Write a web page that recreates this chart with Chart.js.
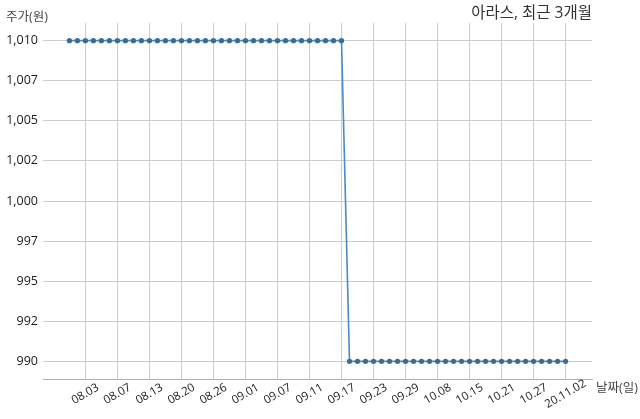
<!DOCTYPE html>
<html>
<head>
<meta charset="utf-8">
<script src="https://cdn.jsdelivr.net/npm/chart.js@4/dist/chart.umd.min.js"></script>
<style>
  html, body { margin: 0; padding: 0; background: #fff; }
</style>
</head>
<body>
<canvas id="myChart" width="640" height="419"></canvas>
<script>
// trading days, 2020.07.30 ~ 2020.11.02
const dates = [
  '07.30', '07.31',
  '08.03', '08.04', '08.05', '08.06', '08.07', '08.10', '08.11', '08.12', '08.13', '08.14',
  '08.18', '08.19', '08.20', '08.21', '08.24', '08.25', '08.26', '08.27', '08.28', '08.31',
  '09.01', '09.02', '09.03', '09.04', '09.07', '09.08', '09.09', '09.10', '09.11',
  '09.14', '09.15', '09.16', '09.17', '09.18', '09.21', '09.22', '09.23', '09.24', '09.25',
  '09.28', '09.29',
  '10.05', '10.06', '10.07', '10.08', '10.12', '10.13', '10.14', '10.15', '10.16',
  '10.19', '10.20', '10.21', '10.22', '10.23', '10.26', '10.27', '10.28', '10.29', '10.30',
  '11.02'
]
const prices = [
  1010, 1010, 1010, 1010, 1010, 1010, 1010, 1010, 1010, 1010, 1010, 1010,
  1010, 1010, 1010, 1010, 1010, 1010, 1010, 1010, 1010, 1010, 1010, 1010,
  1010, 1010, 1010, 1010, 1010, 1010, 1010, 1010, 1010, 1010, 1010,
  990, 990, 990, 990, 990, 990, 990, 990, 990, 990, 990, 990, 990, 990,
  990, 990, 990, 990, 990, 990, 990, 990, 990, 990, 990, 990, 990, 990
]
const yTicks = [990, 992.5, 995, 997.5, 1000, 1002.5, 1005, 1007.5, 1010]
const xTickLabels = ['08.03', '08.07', '08.13', '08.20', '08.26', '09.01', '09.07', '09.11',
  '09.17', '09.23', '09.29', '10.08', '10.15', '10.21', '10.27', '20.11.02']

const title = '아라스, 최근 3개월'
const yTitle = '주가(원)'
const xTitle = '날짜(일)'

const FONT = '"Open Sans", "Noto Sans CJK KR", sans-serif'
Chart.defaults.font.family = FONT

// x tick labels are centred on the tick (rotated), plus the axis titles
const textPlugin = {
  id: 'textPlugin',
  afterDraw(chart) {
    const { ctx, chartArea } = chart
    const x = chart.scales.x
    ctx.save()
    ctx.fillStyle = '#1a1a1a'
    ctx.font = '11.5px ' + FONT
    ctx.textAlign = 'center'
    ctx.textBaseline = 'middle'
    xTickLabels.forEach(l => {
      const px = x.getPixelForValue(dates.indexOf(l.slice(-5)))
      ctx.save()
      ctx.translate(px, chartArea.bottom + 15)
      ctx.rotate(-Math.PI / 6)
      ctx.fillText(l, 0, 0)
      ctx.restore()
    })
    ctx.fillStyle = '#444'
    ctx.font = '12.5px ' + FONT
    ctx.textAlign = 'left'
    ctx.fillText(yTitle, 6, 17)
    ctx.fillText(xTitle, chartArea.right + 4, chartArea.bottom + 9)
    ctx.fillStyle = '#333'
    ctx.font = '15.5px ' + FONT
    ctx.textAlign = 'right'
    ctx.fillText(title, chartArea.right, 14)
    ctx.restore()
  }
}

const ctx = document.getElementById('myChart').getContext('2d')
new Chart(ctx, {
  type: 'line',
  data: {
    datasets: [{
      label: '주가',
      data: prices.map((p, i) => ({ x: i, y: p })),
      borderColor: '#4a8cc2',
      borderWidth: 1.6,
      pointRadius: 2.6,
      pointBorderWidth: 0,
      pointBackgroundColor: '#3a6d95',
      tension: 0
    }]
  },
  options: {
    responsive: false,
    animation: false,
    devicePixelRatio: 1,
    layout: { padding: { top: 23, right: 48, left: 0, bottom: 0 } },
    plugins: {
      legend: { display: false },
      tooltip: { enabled: false }
    },
    scales: {
      x: {
        type: 'linear',
        min: -3.3,
        max: 65.3,
        afterBuildTicks: s => { s.ticks = xTickLabels.map(l => ({ value: dates.indexOf(l.slice(-5)) })) },
        afterFit: s => { s.height = 40 },
        border: { display: true, color: '#b0b0b0' },
        grid: { color: '#cccccc', drawTicks: false },
        ticks: { display: false }
      },
      y: {
        min: 988.9,
        max: 1011.1,
        afterBuildTicks: s => { s.ticks = yTicks.map(v => ({ value: v })) },
        afterFit: s => { s.width = 43 },
        border: { display: false },
        grid: { color: '#cccccc', drawTicks: false },
        ticks: {
          padding: 5,
          color: '#1a1a1a',
          font: { size: 12.5 },
          callback: v => Math.floor(v).toLocaleString('en-US')
        }
      }
    }
  },
  plugins: [textPlugin]
})
</script>
</body>
</html>
